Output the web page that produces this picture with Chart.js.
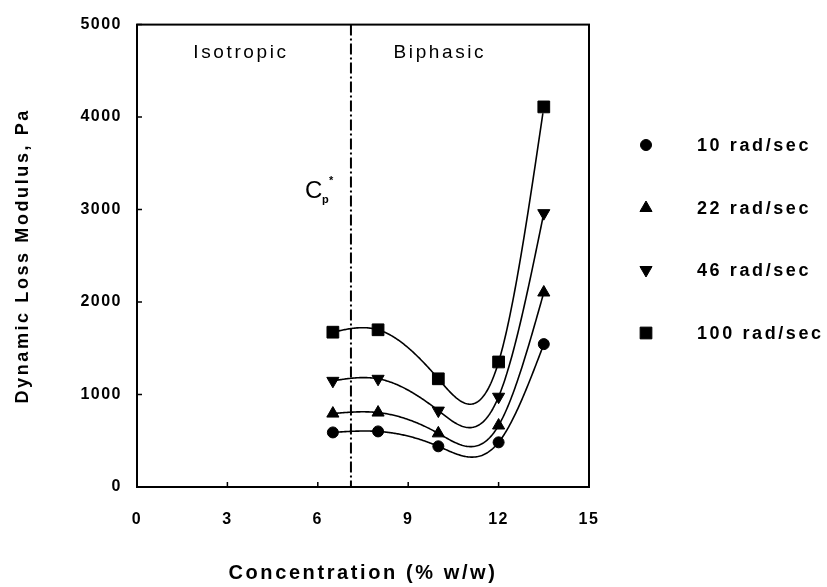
<!DOCTYPE html>
<html>
<head>
<meta charset="utf-8">
<script src="https://cdn.jsdelivr.net/npm/chart.js@4.4.1/dist/chart.umd.min.js"></script>
<style>
  html, body { margin: 0; padding: 0; background: #fff; }
  canvas { display: block; }
</style>
</head>
<body>
<canvas id="chart" width="827" height="587"></canvas>
<script>
// Concentration (% w/w) of each measured sample
const concentration = [6.5, 8, 10, 12, 13.5];

// Dynamic loss modulus (Pa) at each angular frequency
const loss10 = [590, 601, 440, 483, 1545];
const loss22 = [794, 805, 580, 665, 2103];
const loss46 = [1148, 1170, 826, 976, 2961];
const loss100 = [1674, 1700, 1170, 1352, 4110];

const seriesLabels = ['10 rad/sec', '22 rad/sec', '46 rad/sec', '100 rad/sec'];
const xTickValues = [0, 3, 6, 9, 12, 15];
const yTickValues = [0, 1000, 2000, 3000, 4000, 5000];

// Critical concentration C_p* separating the isotropic and biphasic regions
const criticalConc = 7.1;
const regionLabels = ['Isotropic', 'Biphasic'];

const FONT = '"Liberation Sans", Arial, Helvetica, sans-serif';

function pts(ys) { return concentration.map((x, i) => ({ x: x, y: ys[i] })); }

const markerStyles = [
  { pointStyle: 'circle', radius: 5.5, rotation: 0 },
  { pointStyle: 'triangle', radius: 7, rotation: 0 },
  { pointStyle: 'triangle', radius: 7, rotation: 180 },
  { pointStyle: 'rect', radius: 8.3, rotation: 0 }
];

const seriesValues = [loss10, loss22, loss46, loss100];

const datasets = seriesValues.map((ys, i) => ({
  label: seriesLabels[i],
  data: pts(ys),
  showLine: false,
  pointStyle: markerStyles[i].pointStyle,
  pointRadius: markerStyles[i].radius,
  pointRotation: markerStyles[i].rotation,
  pointBackgroundColor: '#000',
  pointBorderColor: '#000',
  pointBorderWidth: 1,
  pointHoverRadius: markerStyles[i].radius
}));

// Natural cubic spline through the data points of one series
function naturalSpline(xs, ys) {
  const n = xs.length;
  const h = [], alpha = [0];
  for (let i = 0; i < n - 1; i++) h.push(xs[i + 1] - xs[i]);
  for (let i = 1; i < n - 1; i++) {
    alpha.push(3 / h[i] * (ys[i + 1] - ys[i]) - 3 / h[i - 1] * (ys[i] - ys[i - 1]));
  }
  const l = [1], mu = [0], z = [0];
  for (let i = 1; i < n - 1; i++) {
    l.push(2 * (xs[i + 1] - xs[i - 1]) - h[i - 1] * mu[i - 1]);
    mu.push(h[i] / l[i]);
    z.push((alpha[i] - h[i - 1] * z[i - 1]) / l[i]);
  }
  const c = new Array(n).fill(0), b = new Array(n - 1), d = new Array(n - 1);
  for (let j = n - 2; j >= 0; j--) {
    c[j] = j === 0 ? 0 : z[j] - mu[j] * c[j + 1];
    b[j] = (ys[j + 1] - ys[j]) / h[j] - h[j] * (c[j + 1] + 2 * c[j]) / 3;
    d[j] = (c[j + 1] - c[j]) / (3 * h[j]);
  }
  return function (x) {
    let k = 0;
    while (k < n - 2 && x > xs[k + 1]) k++;
    const dx = x - xs[k];
    return ys[k] + b[k] * dx + c[k] * dx * dx + d[k] * dx * dx * dx;
  };
}

const fittedCurves = {
  id: 'fittedCurves',
  beforeDatasetsDraw(chart) {
    const { ctx, scales: { x, y } } = chart;
    ctx.save();
    ctx.strokeStyle = '#000';
    ctx.lineWidth = 1.6;
    ctx.lineJoin = 'round';
    seriesValues.forEach(ys => {
      const f = naturalSpline(concentration, ys);
      const px0 = x.getPixelForValue(concentration[0]);
      const px1 = x.getPixelForValue(concentration[concentration.length - 1]);
      ctx.beginPath();
      for (let px = px0; px <= px1 + 0.01; px += 1) {
        const v = x.getValueForPixel(Math.min(px, px1));
        const py = y.getPixelForValue(f(v));
        if (px === px0) ctx.moveTo(px, py); else ctx.lineTo(px, py);
      }
      ctx.stroke();
    });
    ctx.restore();
  }
};

const decorations = {
  id: 'decorations',
  // axis titles are drawn with the grid layer, before the datasets
  beforeDraw(chart) {
    chart.ctx.letterSpacing = '2.6px';
  },
  // tick labels sit on a higher layer, drawn after the datasets
  afterDatasetsDraw(chart) {
    chart.ctx.letterSpacing = '1.5px';
  },
  afterDraw(chart) {
    const { ctx, chartArea: a, scales: { x, y } } = chart;
    ctx.save();
    // frame
    ctx.strokeStyle = '#000';
    ctx.lineWidth = 2;
    ctx.strokeRect(a.left, a.top, a.right - a.left, a.bottom - a.top);
    // inward tick marks
    ctx.lineWidth = 1.5;
    ctx.beginPath();
    xTickValues.forEach(v => {
      const px = x.getPixelForValue(v);
      ctx.moveTo(px, a.bottom); ctx.lineTo(px, a.bottom - 5);
    });
    yTickValues.forEach(v => {
      const py = y.getPixelForValue(v);
      ctx.moveTo(a.left, py); ctx.lineTo(a.left + 5, py);
    });
    ctx.stroke();
    // dash-dot line at the critical concentration
    const cx = x.getPixelForValue(criticalConc);
    ctx.lineWidth = 2;
    ctx.setLineDash([11, 3, 2, 3]);
    ctx.beginPath();
    ctx.moveTo(cx, a.top); ctx.lineTo(cx, a.bottom);
    ctx.stroke();
    ctx.setLineDash([]);

    // region labels
    ctx.fillStyle = '#000';
    ctx.letterSpacing = '2.6px';
    ctx.font = '19px ' + FONT;
    ctx.textAlign = 'center';
    ctx.textBaseline = 'middle';
    ctx.fillText(regionLabels[0], x.getPixelForValue(3.45), y.getPixelForValue(4700));
    ctx.fillText(regionLabels[1], x.getPixelForValue(10.05), y.getPixelForValue(4700));

    // C_p* label
    ctx.letterSpacing = '0px';
    ctx.textAlign = 'left';
    ctx.font = '24px ' + FONT;
    const cy = y.getPixelForValue(3200);
    ctx.fillText('C', cx - 46, cy);
    ctx.font = 'bold 11px ' + FONT;
    ctx.fillText('p', cx - 29, cy + 9);
    ctx.fillText('*', cx - 22, cy - 10);

    // legend
    ctx.font = 'bold 18px ' + FONT;
    ctx.letterSpacing = '2.6px';
    const legendX = 646, textX = 697;
    const rowYs = [145, 208, 270, 333];
    chart.data.datasets.forEach((ds, i) => {
      ctx.fillStyle = '#000';
      ctx.strokeStyle = '#000';
      ctx.lineWidth = 1;
      Chart.helpers.drawPoint(ctx, {
        pointStyle: ds.pointStyle,
        rotation: ds.pointRotation,
        radius: ds.pointRadius,
        borderWidth: 1
      }, legendX, rowYs[i]);
      ctx.textAlign = 'left';
      ctx.fillText(ds.label, textX, rowYs[i] + 1);
    });
    ctx.restore();
  }
};

const tickFont = { family: FONT, size: 16, weight: 'bold' };

new Chart(document.getElementById('chart'), {
  type: 'scatter',
  data: { datasets: datasets },
  options: {
    responsive: false,
    animation: false,
    devicePixelRatio: 1,
    layout: { padding: { left: 0, top: 21, right: 238, bottom: 0 } },
    plugins: {
      legend: { display: false },
      tooltip: { enabled: false }
    },
    scales: {
      x: {
        type: 'linear',
        min: 0, max: 15,
        afterBuildTicks(scale) { scale.ticks = xTickValues.map(v => ({ value: v })); },
        afterFit(scale) { scale.height = 100; },
        grid: { display: true, drawOnChartArea: false, drawTicks: false },
        border: { display: false },
        ticks: { z: 1, color: '#000', padding: 23, font: tickFont, callback: v => String(v) },
        title: {
          display: true, text: 'Concentration (% w/w)', color: '#000',
          font: { family: FONT, size: 20, weight: 'bold' }, padding: { top: 0, bottom: 2 }
        }
      },
      y: {
        type: 'linear',
        min: 0, max: 5000,
        afterBuildTicks(scale) { scale.ticks = yTickValues.map(v => ({ value: v })); },
        afterFit(scale) { scale.width = 137; },
        grid: { display: true, drawOnChartArea: false, drawTicks: false },
        border: { display: false },
        ticks: { z: 1, color: '#000', padding: 15, font: tickFont, callback: v => String(v) },
        title: {
          display: true, text: 'Dynamic Loss Modulus, Pa', color: '#000',
          font: { family: FONT, size: 18, weight: 'bold' }, padding: { top: 12, bottom: 0 }
        }
      }
    }
  },
  plugins: [fittedCurves, decorations]
});
</script>
</body>
</html>
